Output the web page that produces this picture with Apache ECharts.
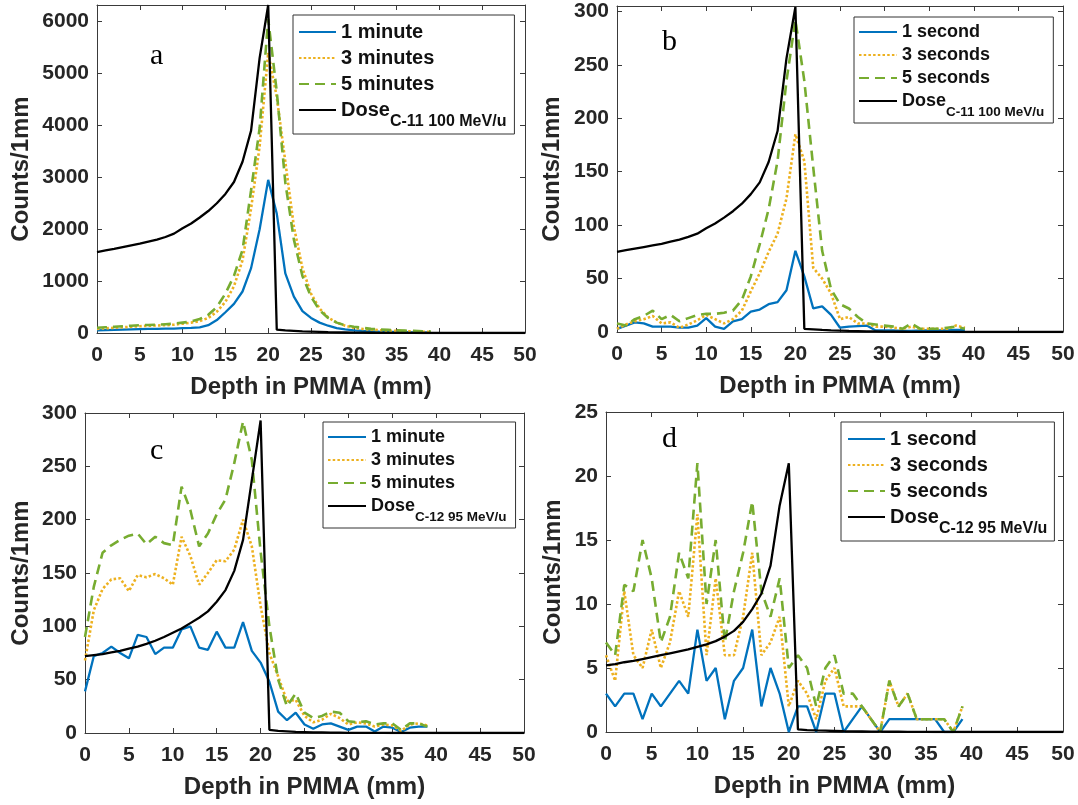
<!DOCTYPE html>
<html>
<head>
<meta charset="utf-8">
<script src="https://cdn.jsdelivr.net/npm/echarts@6/dist/echarts.min.js"></script>
<style>
html,body{margin:0;padding:0;background:#fff;}
#chart{width:1078px;height:805px;}
</style>
</head>
<body>
<div id="chart"></div>
<script>
// ---------- data (index = depth in mm) ----------
const xTicks = [0,5,10,15,20,25,30,35,40,45,50];

// Panel a: C-11, minutes
const a_1min = [50,55,60,65,70,75,80,80,85,85,95,100,110,150,250,400,560,800,1250,2000,2950,2300,1150,700,420,290,200,140,95,70,50,40,32,26,22,19,16,13,11,9];
const a_3min = [80,90,100,110,120,130,140,145,150,160,180,200,230,290,410,600,900,1400,2400,3600,5400,4550,3300,2050,1250,760,470,300,200,140,100,80,65,55,45,40,35,30,25,20];
const a_5min = [100,110,120,130,140,150,155,160,170,180,200,220,270,350,500,760,1100,1600,2750,3950,6050,4650,2900,1800,1100,700,440,290,200,150,120,100,80,70,60,50,45,40,35,30];
const a_dose = [1560,1590,1620,1655,1690,1720,1760,1800,1850,1915,2020,2110,2225,2350,2500,2680,2910,3300,3900,5300,6320,65,50,40,30,25,20,15,12,10,8,6,5,4,3,2,1,1,0,0,0,0,0,0,0,0,0,0,0,0,0];

// Panel b: C-11, seconds
const b_1s = [3,6,9,8,5,5,5,4,4,6,13,5,3,10,12,19,21,26,28,39,76,52,22,24,16,4,5,5.5,6,1.5,1.5,1.5,1,1,1.5,1.5,1.5,1.5,2,2];
const b_3s = [3,7,10,12,15,8,9,4,7,11,16,12,8,12,20,38,55,75,92,125,185,160,60,50,36,12,14,8,8,5,5,4,3,5,3,3,3,3,6,4];
const b_5s = [8,6,12,15,20,12,16,10,13,16,17,17,18,20,30,52,82,115,160,235,292,235,154,76,40,26,22,14,8,7,6,5,3,8,3,3,3,4,5,3];
const b_dose = [75,76.5,78,79.5,81,82.5,84.5,86.5,89,92,97,101.5,107,113,120,129,140,159,188,256,304,3,2.5,2,1.6,1.3,1,0.8,0.6,0.5,0.4,0.3,0.25,0.2,0.15,0.1,0.1,0.05,0,0,0,0,0,0,0,0,0,0,0,0,0];

// Panel c: C-12, minutes
const c_1min = [39,72,75,81,75,70,92,90,74,80,80,97,100,80,78,95,80,80,104,77,66,48,20,12,19,8,4,8,9,6,3,6,6,1.5,6,5,1,5,6,6];
const c_3min = [68,115,135,144,145,133,148,146,149,145,139,184,166,139,150,162,161,172,200,175,119,75,53,30,31,16,10,12.5,18,14,8,10,9,6,8,7,2,8,9,7];
const c_5min = [90,137,169,176,181,185,187,177,184,178,176,231,209,175,187,205,219,253,292,256,170,100,50,25,37,19,14,16,20,19,11,10,11,8,9,9,3,9,9,6];
const c_dose = [72,73,74,75.5,77,79,81,83.5,86.5,90,94,98,103,108,114,123,134,152,181,237,293,3,2,1.5,1,0.8,0.6,0.5,0.4,0.3,0.2,0.2,0.1,0.1,0.1,0,0,0,0,0,0,0,0,0,0,0,0,0,0,0,0];

// Panel d: C-12, seconds
const d_1s = [3,2,3,3,1,3,2,3,4,3,8,4,5,1,4,5,8,2,5,3,0,2,2,0,3,3,0,1,2,1,0,1,1,1,1,1,1,0,0,1];
const d_3s = [6,4,11,6,5,8,5,7,11,9,17,6,12,6,6,9,14,6,7,9,2,4,3,1,4,5,2,2,2,1,0,4,2,3,1,1,1,1,0,2];
const d_5s = [7,6,11.5,11,15,12,7,9,14,12,21,10,15,7,11,14,18,11,9,12,5,6,5,2,5,6,3,3,2,1,0,4,2,3,1,1,1,1,0,2];
const d_dose = [5.2,5.3,5.45,5.55,5.7,5.85,6.0,6.15,6.3,6.45,6.65,6.85,7.1,7.45,7.9,8.6,9.6,10.8,13,17.7,21,0.2,0.15,0.12,0.1,0.08,0.06,0.05,0.04,0.03,0.03,0.02,0.02,0.01,0.01,0.01,0,0,0,0,0,0,0,0,0,0,0,0,0,0,0];

const namesMin = ['1 minute','3 minutes','5 minutes'];
const namesSec = ['1 second','3 seconds','5 seconds'];
const doseC11 = 'DoseC-11 100 MeV/u';
const doseC12 = 'DoseC-12 95 MeV/u';

// ---------- styling ----------
const SANS = '"Liberation Sans", Arial, Helvetica, sans-serif';
const SERIF = '"Liberation Serif", "Times New Roman", serif';
const TXT = '#262626';
const AX = '#3a3a3a';
const COLORS = {blue:'#0072BD', orange:'#EDB120', green:'#77AC30', black:'#000000'};

const pts = arr => arr.map((v,i)=>[i,v]);

const panels = [
  {grid:{left:97, right:553, top:5, bottom:472}, ymax:6320, yint:1000, hideMax:true, yGap:64, xGap:42,
   s:[a_1min,a_3min,a_5min,a_dose], names:[...namesMin, doseC11],
   leg:{left:293, top:15, fs:20, sub:16, pad:[7,8,4,5], iw:37, gap:6}},
  {grid:{left:617, right:15, top:6, bottom:473}, ymax:305, yint:50, hideMax:true, yGap:53, xGap:42,
   s:[b_1s,b_3s,b_5s,b_dose], names:[...namesSec, doseC11],
   leg:{left:854, top:17, fs:18, sub:13.5, pad:[6,9,4,4], iw:38, gap:5}},
  {grid:{left:85, right:554, top:413, bottom:72}, ymax:300, yint:50, hideMax:false, yGap:52, xGap:42,
   s:[c_1min,c_3min,c_5min,c_dose], names:[...namesMin, doseC12],
   leg:{left:323, top:422, fs:18, sub:13.5, pad:[6,9,4,4], iw:38, gap:5}},
  {grid:{left:606, right:15, top:412, bottom:73}, ymax:25, yint:5, hideMax:false, yGap:41, xGap:42,
   s:[d_1s,d_3s,d_5s,d_dose], names:[...namesSec, doseC12],
   leg:{left:841, top:422, fs:20, sub:16, pad:[7,7,4,6], iw:37, gap:6}}
];

const lineStyles = [
  {color:COLORS.blue, width:2.3, type:'solid'},
  {color:COLORS.orange, width:2.6, type:[2.5,2.2]},
  {color:COLORS.green, width:2.6, type:[10,6]},
  {color:COLORS.black, width:2.3, type:'solid'}
];

const grid = [], xAxis = [], yAxis = [], series = [], legend = [];

panels.forEach((p, gi) => {
  grid.push(Object.assign({containLabel:false}, p.grid));
  const baseX = {
    type:'value', gridIndex:gi, min:0, max:50, interval:5,
    axisLine:{show:true, onZero:false, lineStyle:{color:AX, width:1}},
    axisTick:{show:true, inside:true, length:5, lineStyle:{color:AX, width:1}},
    splitLine:{show:false}
  };
  xAxis.push(Object.assign({}, baseX, {
    position:'bottom',
    axisLabel:{show:true, margin:12, fontSize:21, fontWeight:'bold', color:TXT, fontFamily:SANS, formatter: v => String(v)},
    name:'Depth in PMMA (mm)', nameLocation:'middle', nameGap:p.xGap,
    nameTextStyle:{fontSize:24, fontWeight:'bold', color:TXT, fontFamily:SANS}
  }));
  xAxis.push(Object.assign({}, baseX, {position:'top', axisLabel:{show:false}}));
  const baseY = {
    type:'value', gridIndex:gi, min:0, max:p.ymax, interval:p.yint,
    axisLine:{show:true, onZero:false, lineStyle:{color:AX, width:1}},
    axisTick:{show:true, inside:true, length:5, lineStyle:{color:AX, width:1}},
    splitLine:{show:false}
  };
  yAxis.push(Object.assign({}, baseY, {
    position:'left',
    axisLabel:{show:true, margin:8, fontSize:21, fontWeight:'bold', color:TXT, fontFamily:SANS, showMaxLabel: !p.hideMax, formatter: v => String(v)},
    name:'Counts/1mm', nameLocation:'middle', nameGap:p.yGap, nameRotate:90,
    nameTextStyle:{fontSize:24, fontWeight:'bold', color:TXT, fontFamily:SANS}
  }));
  yAxis.push(Object.assign({}, baseY, {position:'right', axisLabel:{show:false}}));

  p.s.forEach((arr, si) => {
    series.push({
      type:'line', name:p.names[si], xAxisIndex:gi*2, yAxisIndex:gi*2,
      data:pts(arr), symbol:'none', showSymbol:false, smooth:false,
      lineStyle:Object.assign({}, lineStyles[si]), itemStyle:{color:lineStyles[si].color},
      z: 2 + si, silent:true, clip:true
    });
  });

  const L = p.leg;
  legend.push({
    orient:'vertical', left:L.left, top:L.top, data:p.names,
    itemWidth:L.iw, itemHeight:12, itemGap:L.gap, padding:L.pad,
    borderColor:'#333', borderWidth:1, backgroundColor:'#ffffff', borderRadius:0,
    selectedMode:false,
    itemStyle:{opacity:0},
    textStyle:{fontSize:L.fs, fontWeight:'bold', color:'#111', fontFamily:SANS, lineHeight:L.fs,
      rich:{
        a:{fontSize:L.fs, fontWeight:'bold', fontFamily:SANS, color:'#111', lineHeight:L.fs, verticalAlign:'top'},
        s:{fontSize:L.sub, fontWeight:'bold', fontFamily:SANS, color:'#111', lineHeight:L.sub, verticalAlign:'top', padding:[Math.round(L.fs*0.7),0,0,0]}
      }},
    formatter: n => n.indexOf('Dose') === 0 ? '{a|Dose}{s|' + n.slice(4) + '}' : n
  });
});

const letters = [
  {t:'a', x:150, y:56},
  {t:'b', x:662, y:42},
  {t:'c', x:150, y:451},
  {t:'d', x:662, y:439}
];

const option = {
  animation:false,
  backgroundColor:'#ffffff',
  grid, xAxis, yAxis, series, legend,
  graphic: letters.map(l => ({
    type:'text', x:l.x, y:l.y, z:100,
    style:{text:l.t, fontSize:30, fontFamily:SERIF, fill:'#000', textAlign:'left', textVerticalAlign:'middle'}
  }))
};

const chart = echarts.init(document.getElementById('chart'), null, {renderer:'canvas'});
chart.setOption(option);
</script>
</body>
</html>
